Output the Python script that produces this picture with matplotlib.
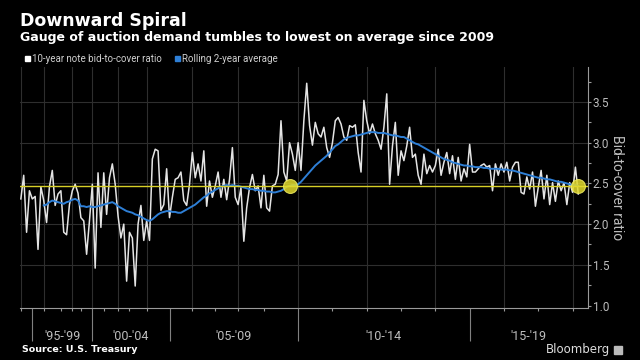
import matplotlib
matplotlib.use("Agg")
import matplotlib.pyplot as plt
import numpy as np

# auctions per calendar year, 1994 .. early 2018
years = list(range(1994, 2019))
auctions_per_year = [4, 4, 6, 4, 3, 4, 4, 5, 4, 6, 8, 8, 8, 8, 9,
                     12, 12, 12, 12, 12, 12, 12, 12, 12, 3]

# 10-year note bid-to-cover ratio, one value per auction
bid_to_cover = [
    2.31, 2.60, 1.90, 2.41, 2.31, 2.34, 1.69, 2.46, 2.29, 2.02,
    2.46, 2.66, 2.23, 2.37, 2.41, 1.90, 1.87, 2.24, 2.41, 2.49,
    2.38, 2.08, 2.04, 1.63, 2.04, 2.49, 1.46, 2.63, 1.96, 2.63,
    2.12, 2.57, 2.74, 2.49, 2.10, 1.83, 2.00, 1.30, 1.90, 1.83,
    1.24, 2.00, 2.23, 1.80, 2.04, 1.80, 2.80, 2.92, 2.90,
    2.17, 2.24, 2.68, 2.08, 2.33, 2.55, 2.57, 2.64, 2.29, 2.23,
    2.49, 2.88, 2.57, 2.74, 2.53, 2.90, 2.22, 2.53, 2.33, 2.47,
    2.64, 2.33, 2.55, 2.30, 2.55, 2.94, 2.33, 2.24, 2.45, 1.79,
    2.20, 2.45, 2.61, 2.41, 2.47, 2.20, 2.60, 2.20, 2.16, 2.47,
    2.49, 2.61, 3.27, 2.64, 2.53, 3.00,
    2.86, 2.66, 3.00, 2.66, 3.27, 3.73, 3.21, 2.97, 3.25, 3.11,
    3.07, 3.19, 2.94, 2.82, 3.00, 3.27, 3.31, 3.23, 3.07, 3.03,
    3.21, 3.19, 3.22, 2.88, 2.64, 3.52, 3.27, 3.11, 3.23, 3.11,
    3.03, 2.92, 3.19, 3.60, 2.49, 2.96, 3.25, 2.60, 2.90, 2.78,
    2.96, 3.19, 2.82, 2.86, 2.60, 2.49, 2.86, 2.62, 2.72,
    2.64, 2.72, 2.92, 2.60, 2.76, 2.88, 2.62, 2.84, 2.55, 2.82,
    2.53, 2.68, 2.58, 2.98, 2.64, 2.64, 2.68, 2.72, 2.74, 2.70,
    2.72, 2.41, 2.74, 2.60, 2.74, 2.64, 2.76, 2.53, 2.70, 2.76,
    2.76, 2.39, 2.37, 2.58, 2.43, 2.64, 2.22, 2.45, 2.66, 2.31,
    2.60, 2.24, 2.51, 2.28, 2.53, 2.41, 2.51, 2.24, 2.51, 2.39,
    2.70, 2.37,
]

# rolling 2-year average, starts with the 9th auction
rolling_start = 8
rolling_2yr = [
    2.23, 2.24, 2.27, 2.29, 2.28, 2.27, 2.26, 2.25, 2.27, 2.28,
    2.30, 2.31, 2.29, 2.22, 2.22, 2.21, 2.22, 2.21, 2.21, 2.22,
    2.23, 2.24, 2.25, 2.26, 2.27, 2.25, 2.22, 2.20, 2.18, 2.16,
    2.15, 2.14, 2.12, 2.11, 2.09, 2.07, 2.05, 2.04, 2.06, 2.09,
    2.12, 2.14, 2.15, 2.16, 2.16, 2.15, 2.15, 2.14, 2.14, 2.16,
    2.18, 2.20, 2.22, 2.24, 2.27, 2.30, 2.33, 2.35, 2.38, 2.40,
    2.42, 2.44, 2.46, 2.47, 2.48, 2.47, 2.48, 2.47, 2.47, 2.46,
    2.45, 2.44, 2.43, 2.43, 2.42, 2.42, 2.41, 2.41, 2.40, 2.40,
    2.39, 2.39, 2.40, 2.41, 2.43, 2.46, 2.47, 2.48, 2.48, 2.49,
    2.52, 2.56, 2.60, 2.64, 2.68, 2.72, 2.75, 2.78, 2.81, 2.84,
    2.88, 2.92, 2.96, 2.98, 3.01, 3.04, 3.06, 3.07, 3.08, 3.09,
    3.09, 3.10, 3.11, 3.12, 3.13, 3.13, 3.13, 3.12, 3.12, 3.12,
    3.11, 3.10, 3.09, 3.09, 3.08, 3.07, 3.07, 3.05, 3.03, 3.01,
    2.99, 2.98, 2.96, 2.94, 2.92, 2.90, 2.88, 2.86, 2.84, 2.82,
    2.80, 2.79, 2.78, 2.76, 2.75, 2.74, 2.73, 2.72, 2.72, 2.71,
    2.71, 2.70, 2.70, 2.70, 2.69, 2.69, 2.68, 2.68, 2.68, 2.68,
    2.67, 2.67, 2.67, 2.66, 2.66, 2.65, 2.64, 2.63, 2.62, 2.61,
    2.60, 2.59, 2.58, 2.57, 2.57, 2.56, 2.55, 2.55, 2.54, 2.53,
    2.52, 2.52, 2.51, 2.50, 2.49, 2.48, 2.48, 2.47,
]

period_labels = ["'95-'99", "'00-'04", "'05-'09", "'10-'14", "'15-'19"]
period_years = [1995, 2000, 2005, 2010, 2015]
compare_year = 2009

BG = 'black'
WHITE_LINE = '#e4e4e4'
BLUE = '#2e7fd6'
YELLOW = '#d8d028'
GRID = '#2e2e2e'
AXIS = '#9a9a9a'
TEXT = '#bdbdbd'
NARROW = ['Roboto', 'DejaVu Sans']

x = np.arange(len(bid_to_cover))
x_roll = np.arange(rolling_start, rolling_start + len(rolling_2yr))
year_pos = dict(zip(years, np.cumsum([0] + auctions_per_year[:-1])))
x_end = len(bid_to_cover) + 2.4

latest = rolling_2yr[-1]
roll = np.array(rolling_2yr)
match = next(i for i, v in zip(x_roll, roll)
             if i >= year_pos[compare_year] and v >= latest - 1e-9)

fig = plt.figure(figsize=(6.4, 3.6), dpi=100, facecolor=BG)
ax = fig.add_axes([20 / 640, 52 / 360, 568 / 640, 241 / 360], facecolor=BG)

# grid
for yr in years[::2]:
    ax.axvline(year_pos[yr], color=GRID, lw=0.8, zorder=1)
for v in [1.5, 2.0, 2.5, 3.0, 3.5]:
    ax.axhline(v, color=GRID, lw=0.8, zorder=1)

ax.plot(x, bid_to_cover, color=WHITE_LINE, lw=1.1, zorder=3)
ax.plot(x_roll, rolling_2yr, color=BLUE, lw=1.4, zorder=4)
ax.axhline(latest, color=YELLOW, lw=1.0, zorder=5)
ax.plot([match, x_roll[-1]], [latest, latest], 'o', ms=10,
        color='#e2da2c', alpha=0.85, mec='#eeea60', mew=0.8, zorder=6)

ax.set_xlim(-0.3, x_end)
ax.set_ylim(0.97, 3.93)

for s in ['left', 'top']:
    ax.spines[s].set_visible(False)
for s in ['bottom', 'right']:
    ax.spines[s].set_color(AXIS)
    ax.spines[s].set_linewidth(0.8)

ax.yaxis.tick_right()
ax.set_yticks([1.0, 1.5, 2.0, 2.5, 3.0, 3.5])
ax.set_yticks([1.25, 1.75, 2.25, 2.75, 3.25, 3.75], minor=True)
ax.set_yticklabels(['1.0', '1.5', '2.0', '2.5', '3.0', '3.5'],
                   family=NARROW)
ax.tick_params(axis='y', which='both', direction='out', length=2,
               width=0.8, color=AXIS, labelcolor=TEXT, labelsize=8.5, pad=1.5)

ax.set_xticks([year_pos[y] for y in period_years])
ax.set_xticklabels([])
ax.set_xticks([year_pos[y] for y in years], minor=True)
ax.tick_params(axis='x', which='major', direction='out', length=24,
               width=0.8, color='#808080')
ax.tick_params(axis='x', which='minor', direction='out', length=2.5,
               width=0.8, color=AXIS)

bounds = [year_pos[y] for y in period_years] + [x_end]
for i, lab in enumerate(period_labels):
    mid = (bounds[i] + bounds[i + 1]) / 2
    ax.text(mid, -0.117, lab, transform=ax.get_xaxis_transform(),
            ha='center', va='center', color=TEXT, fontsize=9, family=NARROW)

fig.text(617 / 640, 1 - 188 / 360, 'Bid-to-cover ratio', rotation=270,
         ha='center', va='center', color=TEXT, fontsize=10, family=NARROW)

# titles
fig.text(20 / 640, 1 - 26 / 360, 'Downward Spiral', color='white',
         fontsize=12.5, weight='bold', va='baseline')
fig.text(20 / 640, 1 - 40.5 / 360,
         'Gauge of auction demand tumbles to lowest on average since 2009',
         color='white', fontsize=9.0, weight='bold', va='baseline')

# legend
fig.patches.append(plt.Rectangle((25 / 640, 1 - 60.5 / 360), 4.5 / 640,
                                 4.5 / 360, transform=fig.transFigure,
                                 color='white'))
fig.text(31.5 / 640, 1 - 58.5 / 360, '10-year note bid-to-cover ratio',
         color='#cfcfcf', fontsize=7, va='center', family=NARROW)
fig.patches.append(plt.Rectangle((175 / 640, 1 - 60.5 / 360), 4.5 / 640,
                                 4.5 / 360, transform=fig.transFigure,
                                 color=BLUE))
fig.text(181.5 / 640, 1 - 58.5 / 360, 'Rolling 2-year average',
         color='#cfcfcf', fontsize=7, va='center', family=NARROW)

# footer
fig.text(22 / 640, 1 - 350 / 360, 'Source: U.S. Treasury', color='white',
         fontsize=6.8, weight='bold', va='center')
fig.text(610 / 640, 1 - 350 / 360, 'Bloomberg', color='#dddddd',
         fontsize=8.5, ha='right', va='center')
fig.patches.append(plt.Rectangle((614 / 640, 1 - 354 / 360), 8 / 640,
                                 8 / 360, transform=fig.transFigure,
                                 color='#bbbbbb'))

fig.savefig('out.png', dpi=100, facecolor=BG)
